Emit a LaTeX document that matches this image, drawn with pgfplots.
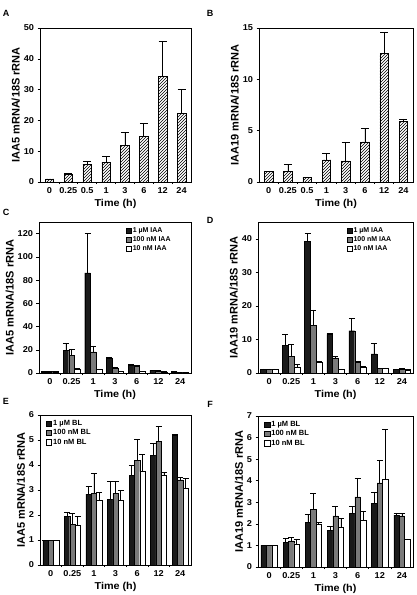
\documentclass[border=0pt]{standalone}
\usepackage{fontspec}
\setmainfont{Liberation Sans}
\newfontfamily\widefont[FakeStretch=1.08]{Liberation Sans}
\usepackage{pgfplots}
\usepackage{pgfplotstable}
\pgfplotsset{compat=1.18}
\usetikzlibrary{patterns}
\definecolor{darkbar}{HTML}{1A1A1A}
\definecolor{midbar}{HTML}{7A7A7A}

\pgfplotstableread{
x y e
0 1.0 0.0
1 2.5 0.45
2 5.8 0.8
3 6.3 1.9
4 11.9 4.2
5 14.7 4.3
6 34.2 11.4
7 22.4 7.7
}\dataA
\pgfplotstableread{
x y e
0 1.0 0.0
1 1.06 0.67
2 0.43 0.07
3 2.16 0.64
4 2.06 1.79
5 3.9 1.3
6 12.5 2.1
7 5.9 0.25
}\dataB
\pgfplotstableread{
x a ea b eb c ec
0 1.0 0.0 1.0 0.0 1.0 0.0
1 19.3 6.6 15.0 5.7 3.2 0.6
2 86.3 33.7 18.1 5.2 2.9 0.6
3 13.0 0.8 4.3 0.9 1.5 0.3
4 6.6 0.6 5.8 0.7 1.5 0.2
5 2.0 0.2 1.8 0.2 1.0 0.1
6 0.9 0.1 0.8 0.1 0.5 0.1
}\dataC
\pgfplotstableread{
x a ea b eb c ec
0 1.0 0.2 1.0 0.2 1.0 0.2
1 8.2 3.4 4.9 3.5 1.8 0.8
2 39.2 2.3 14.3 4.5 3.3 0.2
3 11.5 0.3 4.5 0.5 1.1 0.1
4 12.6 3.7 3.2 0.3 1.6 0.3
5 5.7 3.2 1.3 0.2 1.3 0.2
6 1.0 0.2 1.1 0.2 0.9 0.3
}\dataD
\pgfplotstableread{
x a ea b eb c ec
0 1.0 0.0 1.0 0.0 1.0 0.0
1 1.95 0.17 1.62 0.46 1.58 0.38
2 2.84 0.29 2.87 0.78 2.6 0.3
3 2.63 0.73 2.87 0.49 2.6 0.38
4 3.59 0.4 4.2 0.82 3.74 0.67
5 4.39 0.49 4.95 0.6 3.6 0.11
6 5.21 0.0 3.41 0.11 3.06 0.42
}\dataE
\pgfplotstableread{
x a ea b eb c ec
0 1.0 0.0 1.0 0.0 1.0 0.0
1 1.15 0.2 1.21 0.15 1.08 0.22
2 2.07 0.38 2.66 0.74 1.97 0.1
3 1.7 0.19 2.37 0.42 1.83 0.43
4 2.48 0.31 3.25 0.88 2.17 0.43
5 2.94 0.54 3.9 1.05 4.09 2.29
6 2.4 0.08 2.37 0.13 1.28 0.02
}\dataF

\pgfplotsset{
  panel/.style={
    scale only axis,
    anchor=north west,
    xmin=-0.5, ymin=0,
    clip=false,
    axis line style={line width=0.7pt},
    tick style={line width=0.5pt, black},
    xtick pos=bottom, ytick pos=left,
    major x tick style={draw=none},
    minor tick length=2pt,
    major tick length=2.5pt,
    /pgf/number format/assume math mode=true,
    tick label style={font=\fontsize{8.5}{9}\widefont\bfseries},
    xlabel style={font=\fontsize{10}{11}\widefont\bfseries, yshift=2pt},
    ylabel style={font=\fontsize{11}{12}\selectfont\bfseries, yshift=-3pt},
    xlabel={Time (h)},
    xtick align=inside,
    ytick align=outside,
    error bars/error bar style={black, line width=0.7pt},
    error bars/error mark options={black, line width=0.7pt, mark size=3pt, rotate=90},
  },
  single/.style={
    panel, xmax=7.5, xtick={0,...,7},
    minor xtick={0.5,1.5,...,6.5},
    xticklabels={0,0.25,0.5,1,3,6,12,24},
    ybar, bar width=8.5pt,
    error bars/error mark options={black, line width=0.7pt, mark size=4pt, rotate=90},
  },
  triple/.style={
    panel, xmax=6.5, xtick={0,...,6},
    minor xtick={0.5,1.5,...,5.5},
    xticklabels={0,0.25,1,3,6,12,24},
    ybar=0pt,
    legend cell align=left,
    legend style={draw=none, fill=none, inner sep=0pt,
      row sep=0pt, nodes={inner sep=1.3pt}},
  },
  sq/.style={legend image code/.code={\draw[##1,line width=0.5pt] (0pt,-2.6pt) rectangle (5.2pt,2.6pt);}},
}

\begin{document}
\begin{tikzpicture}
\path[use as bounding box] (0pt,0pt) rectangle (416pt,-595pt);

% A
\begin{axis}[single, at={(40pt,-28pt)}, width=151pt, height=154pt,
  ymax=50, ytick={0,10,...,50}, ylabel={IAA5 mRNA/18S rRNA}]
\addplot[draw=black, line width=0.6pt, pattern=north east lines,
  error bars/.cd, y dir=plus, y explicit] table[x=x,y=y,y error=e]{\dataA};
\end{axis}
\node[font=\fontsize{9}{10}\selectfont\bfseries] at (6pt,-13pt) {A};

% B
\begin{axis}[single, at={(259pt,-28pt)}, width=154pt, height=154pt,
  ymax=15, ytick={0,5,10,15}, ylabel={IAA19 mRNA/18S rRNA}]
\addplot[draw=black, line width=0.6pt, pattern=north east lines,
  error bars/.cd, y dir=plus, y explicit] table[x=x,y=y,y error=e]{\dataB};
\end{axis}
\node[font=\fontsize{9}{10}\selectfont\bfseries] at (210pt,-13pt) {B};

% C
\begin{axis}[triple, at={(39pt,-222pt)}, width=152pt, height=151pt,
  bar width=5.7pt,
  ymax=130, ytick={0,20,...,120}, ylabel={IAA5 mRNA/18S rRNA},
  legend style={at={(0.57,0.975)}, anchor=north west,
    font=\fontsize{7}{8}\selectfont\bfseries}]
\addplot[sq, draw=black, fill=darkbar, line width=0.4pt,
  error bars/.cd, y dir=plus, y explicit] table[x=x,y=a,y error=ea]{\dataC};
\addplot[sq, draw=black, fill=midbar, line width=0.4pt,
  error bars/.cd, y dir=plus, y explicit] table[x=x,y=b,y error=eb]{\dataC};
\addplot[sq, draw=black, fill=white, line width=0.4pt,
  error bars/.cd, y dir=plus, y explicit] table[x=x,y=c,y error=ec]{\dataC};
\legend{1 µM IAA, 100 nM IAA, 10 nM IAA}
\end{axis}
\node[font=\fontsize{9}{10}\selectfont\bfseries] at (6pt,-212pt) {C};

% D
\begin{axis}[triple, at={(258pt,-222pt)}, width=155pt, height=151pt,
  bar width=5.8pt,
  ymax=45, ytick={0,10,...,40}, ylabel={IAA19 mRNA/18S rRNA},
  legend style={at={(0.57,0.975)}, anchor=north west,
    font=\fontsize{7}{8}\selectfont\bfseries}]
\addplot[sq, draw=black, fill=darkbar, line width=0.4pt,
  error bars/.cd, y dir=plus, y explicit] table[x=x,y=a,y error=ea]{\dataD};
\addplot[sq, draw=black, fill=midbar, line width=0.4pt,
  error bars/.cd, y dir=plus, y explicit] table[x=x,y=b,y error=eb]{\dataD};
\addplot[sq, draw=black, fill=white, line width=0.4pt,
  error bars/.cd, y dir=plus, y explicit] table[x=x,y=c,y error=ec]{\dataD};
\legend{1 µM IAA, 100 nM IAA, 10 nM IAA}
\end{axis}
\node[font=\fontsize{9}{10}\selectfont\bfseries] at (210pt,-220pt) {D};

% E
\begin{axis}[triple, at={(40pt,-415pt)}, width=151pt, height=150pt,
  bar width=5.3pt,
  ymax=6, ytick={0,...,6}, ylabel={IAA5 mRNA/18S rRNA},
  legend style={at={(0.04,0.975)}, anchor=north west,
    font=\fontsize{7.5}{8}\selectfont\bfseries}]
\addplot[sq, draw=black, fill=darkbar, line width=0.4pt,
  error bars/.cd, y dir=plus, y explicit] table[x=x,y=a,y error=ea]{\dataE};
\addplot[sq, draw=black, fill=midbar, line width=0.4pt,
  error bars/.cd, y dir=plus, y explicit] table[x=x,y=b,y error=eb]{\dataE};
\addplot[sq, draw=black, fill=white, line width=0.4pt,
  error bars/.cd, y dir=plus, y explicit] table[x=x,y=c,y error=ec]{\dataE};
\legend{1 µM BL, 100 nM BL, 10 nM BL}
\end{axis}
\node[font=\fontsize{9}{10}\selectfont\bfseries] at (6pt,-401pt) {E};

% F
\begin{axis}[triple, at={(258pt,-416pt)}, width=155pt, height=151pt,
  bar width=5.4pt,
  ymax=7, ytick={0,...,7}, ylabel={IAA19 mRNA/18S rRNA},
  legend style={at={(0.04,0.975)}, anchor=north west,
    font=\fontsize{7.5}{8}\selectfont\bfseries}]
\addplot[sq, draw=black, fill=darkbar, line width=0.4pt,
  error bars/.cd, y dir=plus, y explicit] table[x=x,y=a,y error=ea]{\dataF};
\addplot[sq, draw=black, fill=midbar, line width=0.4pt,
  error bars/.cd, y dir=plus, y explicit] table[x=x,y=b,y error=eb]{\dataF};
\addplot[sq, draw=black, fill=white, line width=0.4pt,
  error bars/.cd, y dir=plus, y explicit] table[x=x,y=c,y error=ec]{\dataF};
\legend{1 µM BL, 100 nM BL, 10 nM BL}
\end{axis}
\node[font=\fontsize{9}{10}\selectfont\bfseries] at (210pt,-404pt) {F};
\end{tikzpicture}
\end{document}
